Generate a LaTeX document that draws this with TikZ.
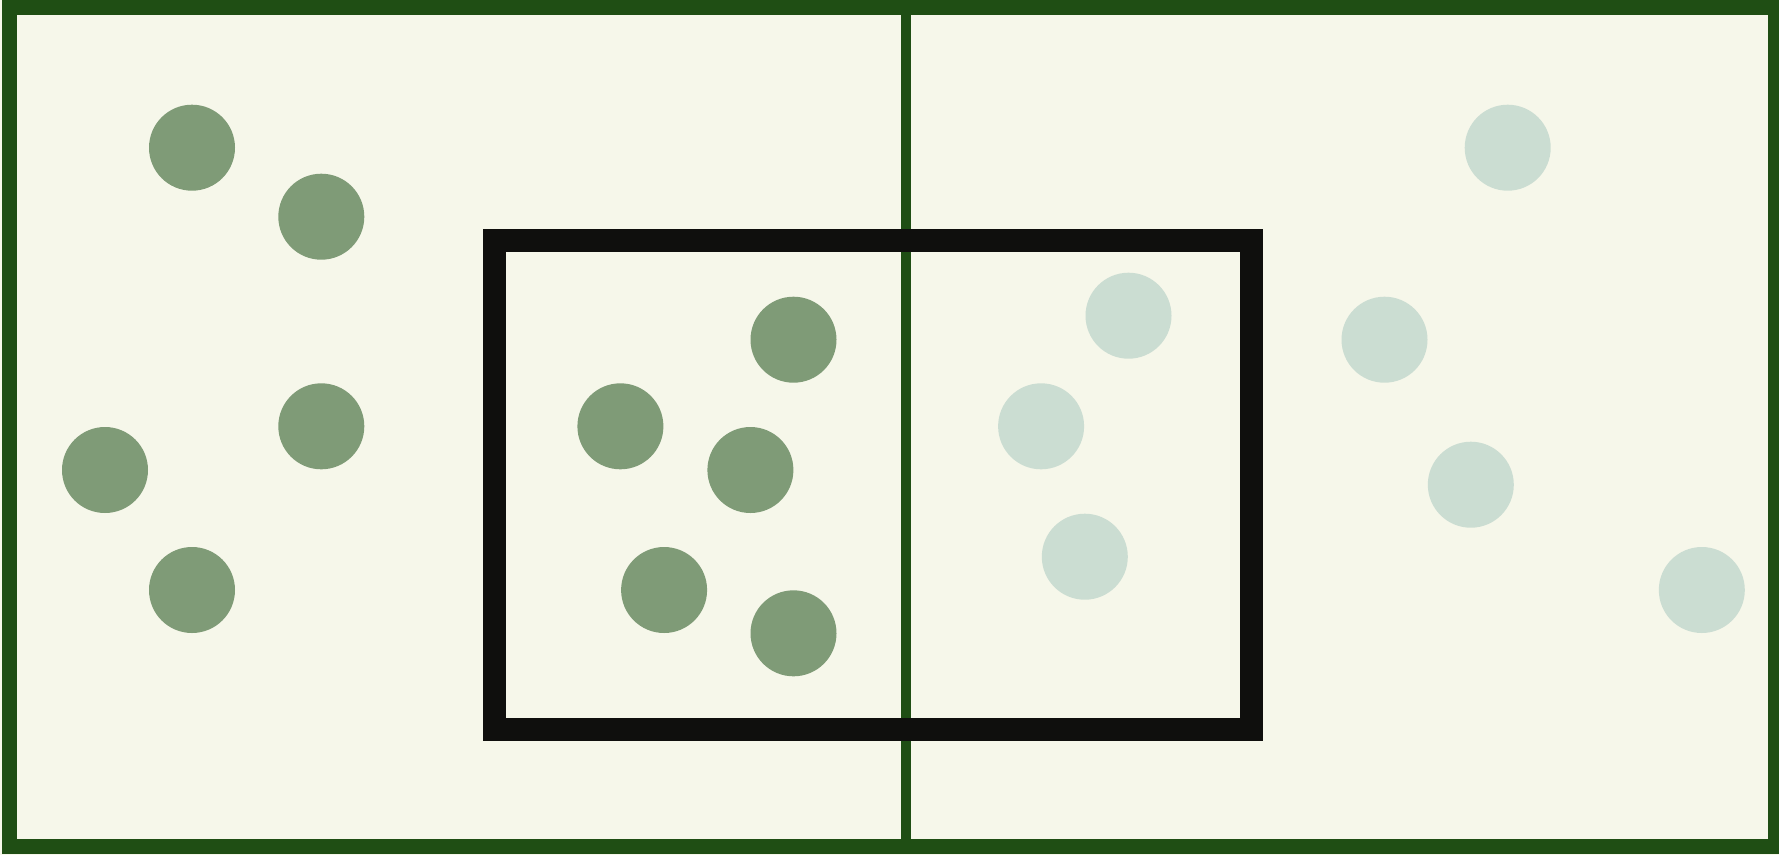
\documentclass[tikz,border=0pt]{standalone}
\definecolor{cream}{HTML}{F6F7EA}
\definecolor{framegreen}{HTML}{1F4E14}
\definecolor{darkdot}{HTML}{7F9B77}
\definecolor{lightdot}{HTML}{CBDDD2}
\definecolor{boxblack}{HTML}{0F0F0D}
\begin{document}
\begin{tikzpicture}[x=1pt,y=-1pt,
  dotdark/.style={circle,fill=darkdot,draw=none,minimum size=86pt,inner sep=0pt},
  dotlight/.style={circle,fill=lightdot,draw=none,minimum size=86pt,inner sep=0pt},
  divider/.style={draw=framegreen,line width=10pt},
  outerframe/.style={draw=framegreen,line width=15pt},
  innerbox/.style={draw=boxblack,line width=23pt}]
\useasboundingbox (0,0) rectangle (1779,855);
\fill[cream] (0,0) rectangle (1779,855);
% divider
\coordinate (dtop) at (905.6,7.5);
\coordinate (dbot) at (905.6,847);
\draw[divider] (dtop) -- (dbot);
% inner black box
\draw[innerbox] (494,240.8) rectangle (1251,729.5);
% outer frame
\draw[outerframe] (9.5,7.5) rectangle (1775.2,846.8);
% dark dots
\node[dotdark] (d1) at (192,147.7) {};
\node[dotdark] (d2) at (321.3,216.7) {};
\node[dotdark] (d3) at (105,470) {};
\node[dotdark] (d4) at (321.3,426.3) {};
\node[dotdark] (d5) at (192,590) {};
\node[dotdark] (d6) at (620.4,426.3) {};
\node[dotdark] (d7) at (793.5,339.7) {};
\node[dotdark] (d8) at (664.1,590) {};
\node[dotdark] (d9) at (750.4,470) {};
\node[dotdark] (d10) at (793.5,633.3) {};
% light dots
\node[dotlight] (l1) at (1507.7,147.7) {};
\node[dotlight] (l2) at (1128.5,315.7) {};
\node[dotlight] (l3) at (1384.5,339.7) {};
\node[dotlight] (l4) at (1041.1,426.3) {};
\node[dotlight] (l5) at (1084.8,556.7) {};
\node[dotlight] (l6) at (1470.8,484.7) {};
\node[dotlight] (l7) at (1701.8,590) {};
\end{tikzpicture}
\end{document}
